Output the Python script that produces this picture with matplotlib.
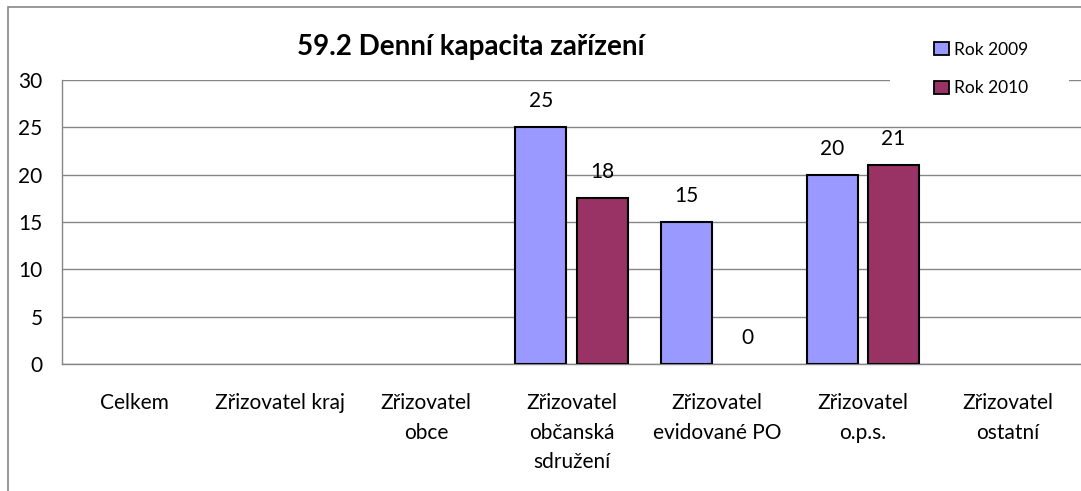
import numpy as np
import matplotlib
matplotlib.use("Agg")
import matplotlib.pyplot as plt
from matplotlib.patches import Rectangle, Patch

plt.rcParams['font.family'] = ['Lato', 'DejaVu Sans']

categories = ["Celkem", "Zřizovatel kraj", "Zřizovatel\nobce",
              "Zřizovatel\nobčanská\nsdružení", "Zřizovatel\nevidované PO",
              "Zřizovatel\no.p.s.", "Zřizovatel\nostatní"]
rok_2009 = [np.nan, np.nan, np.nan, 25, 15, 20, np.nan]
rok_2010 = [np.nan, np.nan, np.nan, 17.5, 0, 21, np.nan]
series_names = ["Rok 2009", "Rok 2010"]
colors = ["#9999FF", "#993366"]
title = "59.2 Denní kapacita zařízení"

fig = plt.figure(figsize=(10.81, 4.91), dpi=100)
ax = fig.add_axes([62 / 1081, 1 - 364 / 491, 1 - 62 / 1081, 284 / 491])

# outer chart border
fig.patches.append(Rectangle((8 / 1081, -0.1), 1.2, 1 - 7 / 491 + 0.1,
                             transform=fig.transFigure, fill=False,
                             edgecolor="#868686", linewidth=1.2))
# white legend area that hides the top gridline
fig.patches.append(Rectangle((890 / 1081, 1 - 105 / 491), 179 / 1081, 75 / 491,
                             transform=fig.transFigure, facecolor="white",
                             edgecolor="none"))

x = np.arange(len(categories))
width = 0.35
offset = 0.21
for i, (vals, col) in enumerate(zip([rok_2009, rok_2010], colors)):
    pos = x + (offset if i else -offset)
    # zero-height bars have no visible outline in the original
    edges = ["none" if v == 0 else "black" for v in vals]
    ax.bar(pos, vals, width, color=col, edgecolor=edges, linewidth=1.5, zorder=3)
    for p, v in zip(pos, vals):
        if not np.isnan(v):
            ax.annotate("{:.0f}".format(v), (p, v), xytext=(0, 26),
                        textcoords="offset pixels", ha="center", va="center",
                        fontsize=15)

ax.set_xlim(-0.5, len(categories) - 0.5)
ax.set_ylim(0, 30)
ax.set_yticks(range(0, 31, 5))
ax.set_xticks(x)
ax.set_xticklabels(categories, linespacing=1.6, va="top")
ax.tick_params(axis="both", length=0, labelsize=15)
ax.tick_params(axis="x", pad=21)
ax.tick_params(axis="y", pad=14)
ax.grid(axis="y", color="#868686", linewidth=1, zorder=0)
ax.set_axisbelow(True)
for s in ["top", "right"]:
    ax.spines[s].set_visible(False)
for s in ["left", "bottom"]:
    ax.spines[s].set_color("#868686")
    ax.spines[s].set_linewidth(1)

fig.text(471 / 1081, 1 - 47 / 491, title, ha="center", va="center",
         fontsize=20, fontweight="bold")

handles = [Patch(facecolor=c, edgecolor="black", linewidth=1.3) for c in colors]
leg = fig.legend(handles, series_names, loc="upper left",
                 bbox_to_anchor=(920 / 1081, 1 - 28 / 491), fontsize=12.5,
                 frameon=False, handlelength=0.85, handleheight=0.75,
                 handletextpad=0.3, labelspacing=1.3, borderpad=0.3)

fig.savefig("out.png", dpi=100)
